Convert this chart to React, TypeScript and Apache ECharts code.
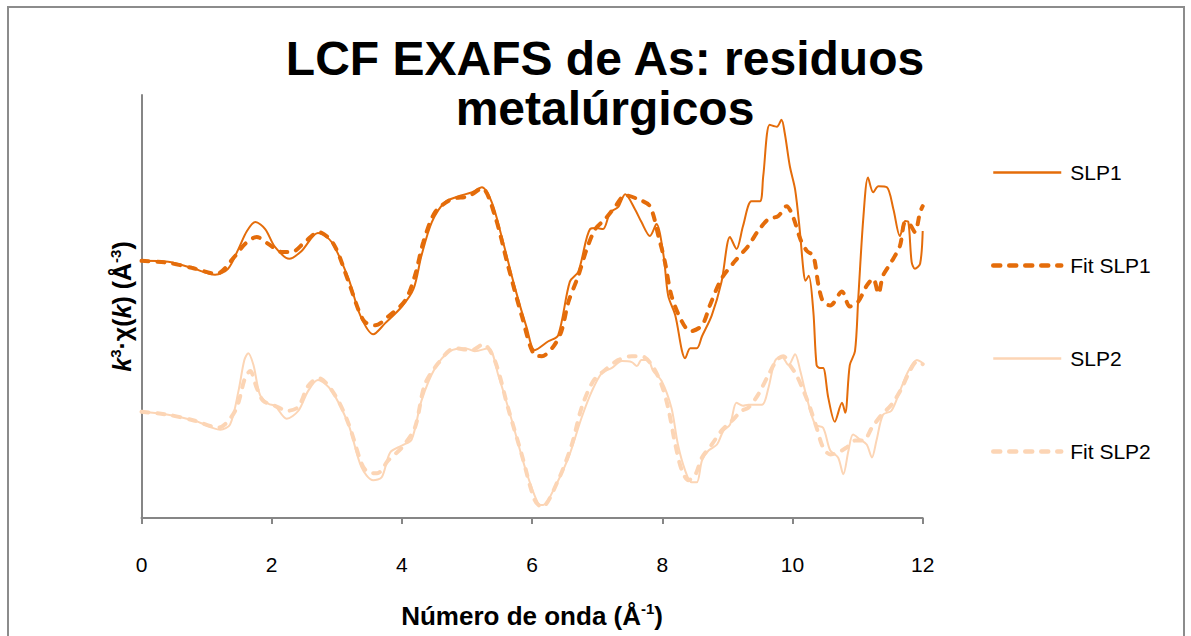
import React, { useEffect, useRef } from "react";
import * as echarts from "echarts";

// Tick labels of the x axis (wave number, Å^-1)
const X_TICKS = [0, 2, 4, 6, 8, 10, 12];

// SLP1 (measured)
const SLP1_K = [0,0.41,0.77,1.13,1.33,1.49,1.62,1.75,1.90,2.05,2.27,2.46,2.71,2.92,3.18,3.36,3.56,3.74,4.00,4.18,4.30,4.46,4.66,4.87,5.07,5.23,5.38,5.53,5.74,5.92,6.04,6.25,6.40,6.58,6.71,6.89,6.99,7.09,7.20,7.32,7.43,7.58,7.68,7.81,7.91,8.02,8.09,8.20,8.30,8.35,8.43,8.53,8.61,8.76,8.91,9.04,9.14,9.24,9.37,9.50,9.55,9.65,9.76,9.83,9.88,9.96,10.04,10.11,10.17,10.20,10.25,10.32,10.37,10.42,10.47,10.55,10.65,10.76,10.81,10.88,10.96,11.01,11.09,11.16,11.24,11.32,11.45,11.55,11.65,11.73,11.78,11.83,11.88,11.96,12.0];
const SLP1_V = [2.59,2.58,2.52,2.45,2.51,2.71,2.89,2.98,2.91,2.73,2.61,2.69,2.87,2.78,2.41,2.04,1.85,1.96,2.13,2.31,2.64,2.98,3.18,3.24,3.28,3.33,3.18,2.84,2.31,1.91,1.69,1.78,1.84,2.38,2.48,2.91,2.92,2.91,3.08,3.13,3.26,3.11,2.98,2.84,2.96,2.64,2.24,2.04,1.69,1.61,1.71,1.71,1.83,2.04,2.38,2.83,2.71,2.94,3.19,3.19,3.44,3.96,3.94,4.01,3.88,3.54,3.31,2.91,2.48,2.39,2.44,2.08,1.54,1.51,1.51,1.21,0.97,1.16,1.06,1.54,1.68,2.21,3.04,3.43,3.28,3.34,3.33,3.11,2.84,2.99,2.98,2.58,2.51,2.56,2.89];

// Fit SLP1
const FIT1_K = [0,0.41,0.77,1.15,1.44,1.59,1.77,1.95,2.15,2.31,2.51,2.72,2.95,3.18,3.41,3.59,3.79,4.05,4.20,4.33,4.51,4.76,5.02,5.23,5.43,5.63,5.84,6.04,6.15,6.33,6.45,6.56,6.71,6.84,6.97,7.12,7.27,7.43,7.63,7.81,7.94,8.04,8.14,8.30,8.43,8.61,8.73,8.91,9.12,9.32,9.47,9.63,9.78,9.91,10.01,10.12,10.22,10.32,10.40,10.47,10.58,10.76,10.88,11.01,11.14,11.24,11.32,11.39,11.52,11.65,11.73,11.80,11.88,11.96,12.0];
const FIT1_V = [2.59,2.57,2.52,2.46,2.64,2.76,2.83,2.76,2.68,2.68,2.78,2.88,2.76,2.38,1.99,1.94,2.03,2.19,2.44,2.78,3.08,3.21,3.24,3.32,3.04,2.54,2.04,1.64,1.63,1.73,1.88,2.18,2.44,2.71,2.91,3.01,3.13,3.25,3.21,3.14,2.84,2.58,2.24,1.98,1.88,1.94,2.14,2.41,2.59,2.74,2.89,3.01,3.04,3.14,3.03,2.81,2.69,2.64,2.34,2.18,2.14,2.28,2.13,2.18,2.34,2.41,2.26,2.44,2.58,2.74,2.98,2.96,2.88,3.08,3.14];

// SLP2 (measured)
const SLP2_K = [0,0.41,0.82,1.21,1.36,1.49,1.58,1.64,1.72,1.82,1.95,2.05,2.23,2.41,2.56,2.71,2.92,3.18,3.38,3.56,3.69,3.82,4.00,4.15,4.30,4.51,4.74,4.97,5.12,5.33,5.48,5.69,5.89,6.10,6.17,6.35,6.56,6.76,6.92,7.07,7.22,7.38,7.53,7.61,7.68,7.78,7.86,7.99,8.14,8.24,8.35,8.45,8.53,8.61,8.71,8.84,8.94,9.04,9.14,9.24,9.32,9.53,9.63,9.73,9.83,9.94,10.04,10.12,10.22,10.35,10.47,10.58,10.70,10.78,10.86,10.93,11.04,11.14,11.22,11.29,11.39,11.52,11.65,11.78,11.91,12.0];
const SLP2_V = [1.07,1.04,0.98,0.89,0.94,1.28,1.59,1.66,1.54,1.24,1.15,1.13,1.00,1.08,1.28,1.39,1.28,0.94,0.51,0.38,0.41,0.66,0.73,0.79,1.18,1.51,1.68,1.71,1.68,1.71,1.44,0.98,0.51,0.14,0.13,0.31,0.61,1.01,1.28,1.46,1.51,1.58,1.57,1.53,1.59,1.59,1.48,1.38,1.11,0.74,0.48,0.36,0.36,0.58,0.68,0.74,0.88,0.94,1.16,1.13,1.14,1.14,1.31,1.58,1.63,1.54,1.65,1.48,1.21,0.94,0.91,0.68,0.61,0.44,0.68,0.84,0.79,0.74,0.61,0.78,1.04,1.08,1.28,1.48,1.59,1.56];

// Fit SLP2
const FIT2_K = [0,0.41,0.82,1.18,1.44,1.59,1.67,1.77,1.87,2.05,2.25,2.41,2.56,2.72,2.97,3.18,3.38,3.48,3.62,3.79,4.00,4.20,4.35,4.56,4.81,5.07,5.25,5.43,5.63,5.84,6.04,6.15,6.40,6.61,6.76,6.94,7.12,7.32,7.53,7.68,7.84,7.99,8.09,8.20,8.30,8.40,8.51,8.61,8.76,8.91,9.07,9.22,9.32,9.47,9.63,9.76,9.86,9.96,10.06,10.17,10.27,10.37,10.47,10.58,10.70,10.83,10.96,11.09,11.22,11.37,11.52,11.68,11.80,11.92,12.0];
const FIT2_V = [1.07,1.04,0.98,0.91,1.08,1.41,1.48,1.31,1.18,1.13,1.08,1.12,1.33,1.41,1.24,0.95,0.55,0.46,0.45,0.58,0.71,0.91,1.34,1.56,1.71,1.69,1.75,1.58,1.11,0.64,0.18,0.11,0.38,0.74,1.11,1.38,1.49,1.59,1.63,1.63,1.54,1.34,1.11,0.74,0.48,0.38,0.44,0.61,0.74,0.88,0.98,1.08,1.11,1.24,1.44,1.59,1.63,1.54,1.44,1.28,1.11,0.91,0.71,0.64,0.66,0.71,0.78,0.78,0.91,1.04,1.14,1.31,1.48,1.58,1.55];

const SERIES_NAMES = ["SLP1", "Fit SLP1", "SLP2", "Fit SLP2"];

const zip = (k: number[], v: number[]) => {
  const n = Math.min(k.length, v.length);
  const out: number[][] = [];
  for (let i = 0; i < n; i++) out.push([k[i], v[i]]);
  return out;
};

const DARK = "#E46C0A";
const LIGHT = "#FCD5B5";
const AXIS = "#868686";
const FONT = "'Liberation Sans', Arial, sans-serif";
const DASH = [7, 9];

export default function App() {
  const ref = useRef<HTMLDivElement>(null);
  useEffect(() => {
    if (!ref.current) return;
    const chart = echarts.init(ref.current, undefined, { renderer: "svg" });
    const solid = (color: string) => ({
      type: "line",
      smooth: 0.3,
      symbol: "none",
      lineStyle: { color, width: 2 },
      itemStyle: { color },
    });
    const dashed = (color: string) => ({
      type: "line",
      smooth: 0.3,
      symbol: "none",
      lineStyle: { color, width: 4, type: DASH, cap: "round" },
      itemStyle: { color },
    });
    chart.setOption({
      animation: false,
      textStyle: { fontFamily: FONT },
      title: {
        text: "LCF EXAFS de As: residuos\nmetalúrgicos",
        left: 600,
        top: 28,
        textAlign: "center",
        textStyle: {
          fontFamily: FONT,
          fontSize: 48,
          fontWeight: "bold",
          color: "#000",
          lineHeight: 50,
        },
      },
      graphic: [
        {
          type: "rect",
          silent: true,
          shape: { x: 8, y: 7, width: 1176, height: 700 },
          style: { fill: "none", stroke: "#8c8c8c", lineWidth: 2 },
        },
      ],
      legend: {
        orient: "vertical",
        left: 991,
        top: 162,
        padding: 0,
        itemWidth: 68,
        itemHeight: 20,
        itemGap: 72,
        itemStyle: { opacity: 0 },
        data: [
          { name: SERIES_NAMES[0], lineStyle: { color: DARK, width: 2.5 } },
          { name: SERIES_NAMES[1], lineStyle: { color: DARK, width: 4.5, type: DASH, cap: "round" } },
          { name: SERIES_NAMES[2], lineStyle: { color: LIGHT, width: 2.5 } },
          { name: SERIES_NAMES[3], lineStyle: { color: LIGHT, width: 4.5, type: DASH, cap: "round" } },
        ],
        textStyle: {
          fontFamily: FONT,
          fontSize: 21,
          color: "#000",
          padding: [0, 0, 0, 4],
        },
      },
      grid: { left: 141.5, right: 268.3, top: 95, bottom: 114.5, containLabel: false },
      xAxis: {
        type: "value",
        min: X_TICKS[0],
        max: X_TICKS[X_TICKS.length - 1],
        interval: 2,
        axisLine: { show: true, lineStyle: { color: AXIS, width: 2 } },
        axisTick: { show: true, length: 6, lineStyle: { color: AXIS, width: 2 } },
        splitLine: { show: false },
        axisLabel: { fontFamily: FONT, fontSize: 21, color: "#000", margin: 36 },
        name: "Número de onda (Å{sup|-1})",
        nameLocation: "middle",
        nameGap: 83,
        nameTextStyle: {
          fontFamily: FONT,
          fontSize: 26,
          fontWeight: "bold",
          color: "#000",
          lineHeight: 30,
          rich: {
            sup: { fontFamily: FONT, fontSize: 15, fontWeight: "bold", color: "#000", verticalAlign: "top", lineHeight: 15 },
          },
        },
      },
      yAxis: {
        type: "value",
        min: 0,
        max: 4.26,
        axisLine: { show: true, lineStyle: { color: AXIS, width: 2 } },
        axisTick: { show: false },
        axisLabel: { show: false },
        splitLine: { show: false },
        name: "{i|k}{sup|3}·χ({i|k}) (Å{sup|-3})",
        nameLocation: "middle",
        nameGap: 5,
        nameTextStyle: {
          fontFamily: FONT,
          fontSize: 25,
          fontWeight: "bold",
          color: "#000",
          lineHeight: 29,
          rich: {
            i: { fontFamily: FONT, fontSize: 25, fontWeight: "bold", fontStyle: "italic", color: "#000", lineHeight: 29 },
            sup: { fontFamily: FONT, fontSize: 15, fontWeight: "bold", color: "#000", verticalAlign: "top", lineHeight: 15 },
          },
        },
      },
      series: [
        { name: SERIES_NAMES[0], ...solid(DARK), data: zip(SLP1_K, SLP1_V), z: 3 },
        { name: SERIES_NAMES[1], ...dashed(DARK), data: zip(FIT1_K, FIT1_V), z: 4 },
        { name: SERIES_NAMES[2], ...solid(LIGHT), data: zip(SLP2_K, SLP2_V), z: 1 },
        { name: SERIES_NAMES[3], ...dashed(LIGHT), data: zip(FIT2_K, FIT2_V), z: 2 },
      ],
    });
    return () => chart.dispose();
  }, []);
  return (
    <div style={{ position: "absolute", left: 0, top: 0, width: 1191, height: 636, overflow: "hidden", background: "#fff" }}>
      <div ref={ref} style={{ width: 1191, height: 636 }} />
    </div>
  );
}
